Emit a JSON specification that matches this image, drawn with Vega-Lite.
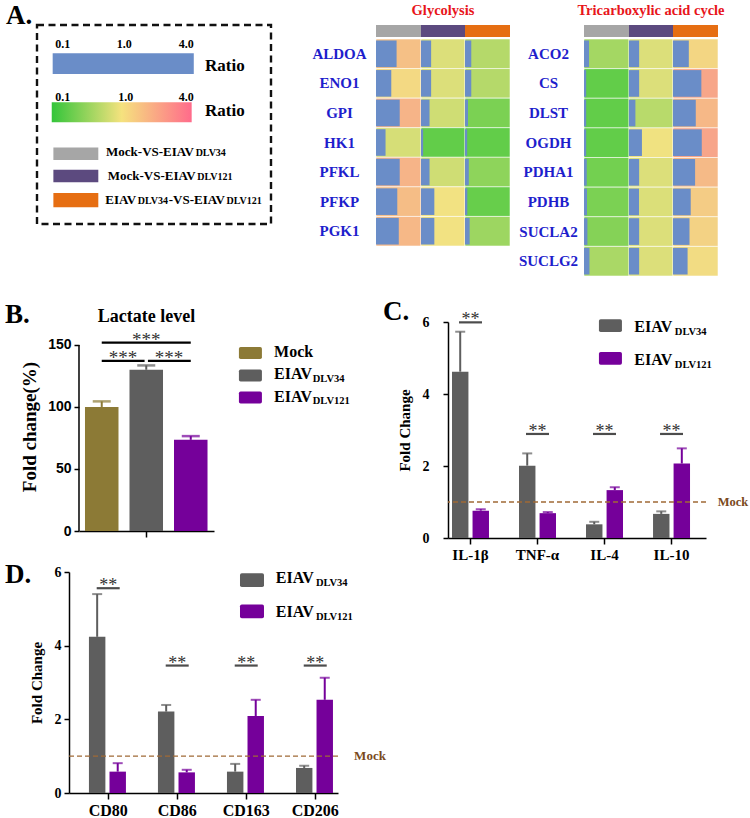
{
"$schema":"https://vega.github.io/schema/vega-lite/v6.json",
"background":"#ffffff",
"padding":{"left":4,"top":0,"right":2,"bottom":2},
"config":{
 "view":{"stroke":null},
 "font":"Liberation Serif",
 "text":{"font":"Liberation Serif","fontWeight":"bold","color":"#000000"},
 "title":{"font":"Liberation Serif","fontWeight":"bold","color":"#000000"},
 "axis":{"grid":false,"domainColor":"#000000","tickColor":"#000000","labelColor":"#000000","titleColor":"#000000","labelFont":"Liberation Serif","titleFont":"Liberation Serif","labelFontWeight":"bold","titleFontWeight":"bold","domainWidth":1.5,"tickWidth":1.5}
},
"datasets":{
 "heat":[
  {"pathway":"Glycolysis","gene":"ALDOA","comparison":"Mock-VS-EIAVDLV34","ratio":1.51},
  {"pathway":"Glycolysis","gene":"ALDOA","comparison":"Mock-VS-EIAVDLV121","ratio":0.76},
  {"pathway":"Glycolysis","gene":"ALDOA","comparison":"EIAVDLV34-VS-EIAVDLV121","ratio":0.46},
  {"pathway":"Glycolysis","gene":"ENO1","comparison":"Mock-VS-EIAVDLV34","ratio":1.12},
  {"pathway":"Glycolysis","gene":"ENO1","comparison":"Mock-VS-EIAVDLV121","ratio":0.76},
  {"pathway":"Glycolysis","gene":"ENO1","comparison":"EIAVDLV34-VS-EIAVDLV121","ratio":0.46},
  {"pathway":"Glycolysis","gene":"GPI","comparison":"Mock-VS-EIAVDLV34","ratio":1.74},
  {"pathway":"Glycolysis","gene":"GPI","comparison":"Mock-VS-EIAVDLV121","ratio":0.64},
  {"pathway":"Glycolysis","gene":"GPI","comparison":"EIAVDLV34-VS-EIAVDLV121","ratio":0.22},
  {"pathway":"Glycolysis","gene":"HK1","comparison":"Mock-VS-EIAVDLV34","ratio":0.70},
  {"pathway":"Glycolysis","gene":"HK1","comparison":"Mock-VS-EIAVDLV121","ratio":0.16},
  {"pathway":"Glycolysis","gene":"HK1","comparison":"EIAVDLV34-VS-EIAVDLV121","ratio":0.16},
  {"pathway":"Glycolysis","gene":"PFKL","comparison":"Mock-VS-EIAVDLV34","ratio":1.74},
  {"pathway":"Glycolysis","gene":"PFKL","comparison":"Mock-VS-EIAVDLV121","ratio":0.64},
  {"pathway":"Glycolysis","gene":"PFKL","comparison":"EIAVDLV34-VS-EIAVDLV121","ratio":0.28},
  {"pathway":"Glycolysis","gene":"PFKP","comparison":"Mock-VS-EIAVDLV34","ratio":1.56},
  {"pathway":"Glycolysis","gene":"PFKP","comparison":"Mock-VS-EIAVDLV121","ratio":1.0},
  {"pathway":"Glycolysis","gene":"PFKP","comparison":"EIAVDLV34-VS-EIAVDLV121","ratio":0.17},
  {"pathway":"Glycolysis","gene":"PGK1","comparison":"Mock-VS-EIAVDLV34","ratio":1.67},
  {"pathway":"Glycolysis","gene":"PGK1","comparison":"Mock-VS-EIAVDLV121","ratio":1.0},
  {"pathway":"Glycolysis","gene":"PGK1","comparison":"EIAVDLV34-VS-EIAVDLV121","ratio":0.34},
  {"pathway":"TCA","gene":"ACO2","comparison":"Mock-VS-EIAVDLV34","ratio":0.37},
  {"pathway":"TCA","gene":"ACO2","comparison":"Mock-VS-EIAVDLV121","ratio":0.76},
  {"pathway":"TCA","gene":"ACO2","comparison":"EIAVDLV34-VS-EIAVDLV121","ratio":1.16},
  {"pathway":"TCA","gene":"CS","comparison":"Mock-VS-EIAVDLV34","ratio":0.16},
  {"pathway":"TCA","gene":"CS","comparison":"Mock-VS-EIAVDLV121","ratio":0.76},
  {"pathway":"TCA","gene":"CS","comparison":"EIAVDLV34-VS-EIAVDLV121","ratio":2.08},
  {"pathway":"TCA","gene":"DLST","comparison":"Mock-VS-EIAVDLV34","ratio":0.16},
  {"pathway":"TCA","gene":"DLST","comparison":"Mock-VS-EIAVDLV121","ratio":0.48},
  {"pathway":"TCA","gene":"DLST","comparison":"EIAVDLV34-VS-EIAVDLV121","ratio":1.67},
  {"pathway":"TCA","gene":"OGDH","comparison":"Mock-VS-EIAVDLV34","ratio":0.16},
  {"pathway":"TCA","gene":"OGDH","comparison":"Mock-VS-EIAVDLV121","ratio":0.97},
  {"pathway":"TCA","gene":"OGDH","comparison":"EIAVDLV34-VS-EIAVDLV121","ratio":2.11},
  {"pathway":"TCA","gene":"PDHA1","comparison":"Mock-VS-EIAVDLV34","ratio":0.20},
  {"pathway":"TCA","gene":"PDHA1","comparison":"Mock-VS-EIAVDLV121","ratio":0.76},
  {"pathway":"TCA","gene":"PDHA1","comparison":"EIAVDLV34-VS-EIAVDLV121","ratio":1.62},
  {"pathway":"TCA","gene":"PDHB","comparison":"Mock-VS-EIAVDLV34","ratio":0.22},
  {"pathway":"TCA","gene":"PDHB","comparison":"Mock-VS-EIAVDLV121","ratio":0.75},
  {"pathway":"TCA","gene":"PDHB","comparison":"EIAVDLV34-VS-EIAVDLV121","ratio":1.30},
  {"pathway":"TCA","gene":"SUCLA2","comparison":"Mock-VS-EIAVDLV34","ratio":0.25},
  {"pathway":"TCA","gene":"SUCLA2","comparison":"Mock-VS-EIAVDLV121","ratio":0.76},
  {"pathway":"TCA","gene":"SUCLA2","comparison":"EIAVDLV34-VS-EIAVDLV121","ratio":1.21},
  {"pathway":"TCA","gene":"SUCLG2","comparison":"Mock-VS-EIAVDLV34","ratio":0.40},
  {"pathway":"TCA","gene":"SUCLG2","comparison":"Mock-VS-EIAVDLV121","ratio":0.76},
  {"pathway":"TCA","gene":"SUCLG2","comparison":"EIAVDLV34-VS-EIAVDLV121","ratio":1.07}
 ],
 "lactate":[
  {"group":"Mock","value":100,"upper":104.5},
  {"group":"EIAVDLV34","value":130,"upper":133.5},
  {"group":"EIAVDLV121","value":73.5,"upper":76.5}
 ],
 "cyto":[
  {"cytokine":"IL-1β","group":"EIAVDLV34","value":4.62,"upper":5.73},
  {"cytokine":"IL-1β","group":"EIAVDLV121","value":0.76,"upper":0.80},
  {"cytokine":"TNF-α","group":"EIAVDLV34","value":2.01,"upper":2.35},
  {"cytokine":"TNF-α","group":"EIAVDLV121","value":0.69,"upper":0.72},
  {"cytokine":"IL-4","group":"EIAVDLV34","value":0.38,"upper":0.45},
  {"cytokine":"IL-4","group":"EIAVDLV121","value":1.33,"upper":1.41},
  {"cytokine":"IL-10","group":"EIAVDLV34","value":0.67,"upper":0.74},
  {"cytokine":"IL-10","group":"EIAVDLV121","value":2.07,"upper":2.49}
 ],
 "markers":[
  {"marker":"CD80","group":"EIAVDLV34","value":4.24,"upper":5.40},
  {"marker":"CD80","group":"EIAVDLV121","value":0.58,"upper":0.81},
  {"marker":"CD86","group":"EIAVDLV34","value":2.21,"upper":2.39},
  {"marker":"CD86","group":"EIAVDLV121","value":0.56,"upper":0.63},
  {"marker":"CD163","group":"EIAVDLV34","value":0.58,"upper":0.79},
  {"marker":"CD163","group":"EIAVDLV121","value":2.09,"upper":2.53},
  {"marker":"CD206","group":"EIAVDLV34","value":0.68,"upper":0.74},
  {"marker":"CD206","group":"EIAVDLV121","value":2.53,"upper":3.13}
 ],
 "sigC":[
  {"cytokine":"IL-1β","sig":"**"},{"cytokine":"TNF-α","sig":"**"},{"cytokine":"IL-4","sig":"**"},{"cytokine":"IL-10","sig":"**"}
 ],
 "sigD":[
  {"marker":"CD80","sig":"**"},{"marker":"CD86","sig":"**"},{"marker":"CD163","sig":"**"},{"marker":"CD206","sig":"**"}
 ]
},
"resolve":{"scale":{"color":"independent"}},
"spacing":21,
"vconcat":[
 {"spacing":38,"hconcat":[
  {"width":234,"height":199,
   "view":{"stroke":"#111111","strokeWidth":2.4,"strokeDash":[7,4.5]},
   "title":{"text":"A.","anchor":"start","frame":"group","dx":-31,"fontSize":27,"baseline":"alphabetic","offset":0,"dy":25.5},
   "data":{"values":[{}]},
   "layer":[
    {"mark":{"type":"rect","color":"#6A8DC8"},"encoding":{"x":{"datum":6.7,"type":"quantitative","scale":{"domain":[0,100],"nice":false,"zero":false},"axis":null},"x2":{"datum":67.0},"y":{"datum":14.2,"type":"quantitative","scale":{"domain":[0,100],"nice":false,"zero":false,"reverse":true},"axis":null},"y2":{"datum":24.6}}},
    {"mark":{"type":"rect","fill":{"gradient":"linear","stops":[{"offset":0,"color":"#33C53A"},{"offset":0.5,"color":"#F5E27E"},{"offset":1,"color":"#FF6B8B"}]}},"encoding":{"x":{"datum":6.3},"x2":{"datum":66.1},"y":{"datum":38.8},"y2":{"datum":48.9}}},
    {"mark":{"type":"text","text":"0.1","fontSize":12,"align":"center","baseline":"middle"},"encoding":{"x":{"datum":11.0},"y":{"datum":9.5}}},
    {"mark":{"type":"text","text":"1.0","fontSize":12,"align":"center","baseline":"middle"},"encoding":{"x":{"datum":37.3},"y":{"datum":9.5}}},
    {"mark":{"type":"text","text":"4.0","fontSize":12,"align":"center","baseline":"middle"},"encoding":{"x":{"datum":63.8},"y":{"datum":9.5}}},
    {"mark":{"type":"text","text":"0.1","fontSize":12,"align":"center","baseline":"middle"},"encoding":{"x":{"datum":11.0},"y":{"datum":36.3}}},
    {"mark":{"type":"text","text":"1.0","fontSize":12,"align":"center","baseline":"middle"},"encoding":{"x":{"datum":37.9},"y":{"datum":36.3}}},
    {"mark":{"type":"text","text":"4.0","fontSize":12,"align":"center","baseline":"middle"},"encoding":{"x":{"datum":63.8},"y":{"datum":36.3}}},
    {"mark":{"type":"text","text":"Ratio","fontSize":17,"align":"left","baseline":"middle"},"encoding":{"x":{"datum":71.8},"y":{"datum":20.5}}},
    {"mark":{"type":"text","text":"Ratio","fontSize":17,"align":"left","baseline":"middle"},"encoding":{"x":{"datum":71.8},"y":{"datum":43.1}}},
    {"mark":{"type":"rect","color":"#A6A6A6"},"encoding":{"x":{"datum":7.0},"x2":{"datum":26.2},"y":{"datum":61.5},"y2":{"datum":67.8}}},
    {"mark":{"type":"rect","color":"#5C4A7F"},"encoding":{"x":{"datum":7.0},"x2":{"datum":26.2},"y":{"datum":72.7},"y2":{"datum":79.0}}},
    {"mark":{"type":"rect","color":"#E66E12"},"encoding":{"x":{"datum":7.0},"x2":{"datum":26.2},"y":{"datum":84.4},"y2":{"datum":91.6}}},
    {"mark":{"type":"text","text":"Mock-VS-EIAV","fontSize":13,"align":"left","baseline":"alphabetic"},"encoding":{"x":{"datum":29.5},"y":{"datum":66.0}}},
    {"mark":{"type":"text","text":"DLV34","fontSize":10,"align":"left","baseline":"alphabetic"},"encoding":{"x":{"datum":67.8},"y":{"datum":66.0}}},
    {"mark":{"type":"text","text":"Mock-VS-EIAV","fontSize":13,"align":"left","baseline":"alphabetic"},"encoding":{"x":{"datum":30.2},"y":{"datum":77.7}}},
    {"mark":{"type":"text","text":"DLV121","fontSize":10,"align":"left","baseline":"alphabetic"},"encoding":{"x":{"datum":68.5},"y":{"datum":77.7}}},
    {"mark":{"type":"text","text":"EIAV","fontSize":13,"align":"left","baseline":"alphabetic"},"encoding":{"x":{"datum":29.2},"y":{"datum":90.1}}},
    {"mark":{"type":"text","text":"DLV34","fontSize":10,"align":"left","baseline":"alphabetic"},"encoding":{"x":{"datum":43.1},"y":{"datum":90.1}}},
    {"mark":{"type":"text","text":"-VS-EIAV","fontSize":13,"align":"left","baseline":"alphabetic"},"encoding":{"x":{"datum":56.3},"y":{"datum":90.1}}},
    {"mark":{"type":"text","text":"DLV121","fontSize":10,"align":"left","baseline":"alphabetic"},"encoding":{"x":{"datum":81.0},"y":{"datum":90.1}}}
   ]
  },
  {"bounds":"flush","align":"each","columns":7,"spacing":{"row":2,"column":0},"concat":[
   {"width":45,"height":12,"data":{"values":[{}]},"mark":{"type":"rect","color":"#A6A6A6"},"encoding":{}},
   {"width":44,"height":12,"data":{"values":[{}]},"mark":{"type":"rect","color":"#5C4A7F"},"encoding":{},
    "title":{"text":"Glycolysis","color":"#E8151B","fontSize":14.5,"anchor":"middle","frame":"group","baseline":"alphabetic","offset":0,"dy":4}},
   {"width":45,"height":12,"data":{"values":[{}]},"mark":{"type":"rect","color":"#E66E12"},"encoding":{}},
   {"width":74,"height":1,"data":{"values":[]},"mark":"point"},
   {"width":45,"height":12,"data":{"values":[{}]},"mark":{"type":"rect","color":"#A6A6A6"},"encoding":{}},
   {"width":44,"height":12,"data":{"values":[{}]},"mark":{"type":"rect","color":"#5C4A7F"},"encoding":{},
    "title":{"text":"Tricarboxylic  acid  cycle","color":"#E8151B","fontSize":14.5,"anchor":"middle","frame":"group","baseline":"alphabetic","offset":0,"dy":4}},
   {"width":45,"height":12,"data":{"values":[{}]},"mark":{"type":"rect","color":"#E66E12"},"encoding":{}},
   {"width":45,"height":207,"data":{"name":"heat"},"transform":[{"filter":"datum.pathway === 'Glycolysis' && datum.comparison === 'Mock-VS-EIAVDLV34'"}],
    "encoding":{"y":{"field":"gene","type":"nominal","sort":["ALDOA","ENO1","GPI","HK1","PFKL","PFKP","PGK1"],"scale":{"paddingInner":0,"paddingOuter":0},"axis":{"title":null,"domain":false,"ticks":false,"labelAlign":"center","labelPadding":37,"labelFontSize":15,"labelColor":"#1E1ECC"}}},
    "layer":[
     {"mark":{"type":"rect","stroke":"#ffffff","strokeWidth":1,"strokeOpacity":0.55},"encoding":{"color":{"field":"ratio","type":"quantitative","scale":{"type":"log","domain":[0.1,1,4],"range":["#3DC83B","#F2E282","#FC7090"],"interpolate":"rgb","clamp":true},"legend":null}}},
     {"mark":{"type":"bar","color":"#6A8DC8","height":{"band":0.9}},"encoding":{"x":{"field":"ratio","type":"quantitative","scale":{"domain":[0,3.3],"clamp":true,"nice":false},"axis":null}}}
    ]},
   {"width":44,"height":207,"data":{"name":"heat"},"transform":[{"filter":"datum.pathway === 'Glycolysis' && datum.comparison === 'Mock-VS-EIAVDLV121'"}],
    "encoding":{"y":{"field":"gene","type":"nominal","sort":["ALDOA","ENO1","GPI","HK1","PFKL","PFKP","PGK1"],"scale":{"paddingInner":0,"paddingOuter":0},"axis":null}},
    "layer":[
     {"mark":{"type":"rect","stroke":"#ffffff","strokeWidth":1,"strokeOpacity":0.55},"encoding":{"color":{"field":"ratio","type":"quantitative","scale":{"type":"log","domain":[0.1,1,4],"range":["#3DC83B","#F2E282","#FC7090"],"interpolate":"rgb","clamp":true},"legend":null}}},
     {"mark":{"type":"bar","color":"#6A8DC8","height":{"band":0.9}},"encoding":{"x":{"field":"ratio","type":"quantitative","scale":{"domain":[0,3.3],"clamp":true,"nice":false},"axis":null}}}
    ]},
   {"width":45,"height":207,"data":{"name":"heat"},"transform":[{"filter":"datum.pathway === 'Glycolysis' && datum.comparison === 'EIAVDLV34-VS-EIAVDLV121'"}],
    "encoding":{"y":{"field":"gene","type":"nominal","sort":["ALDOA","ENO1","GPI","HK1","PFKL","PFKP","PGK1"],"scale":{"paddingInner":0,"paddingOuter":0},"axis":null}},
    "layer":[
     {"mark":{"type":"rect","stroke":"#ffffff","strokeWidth":1,"strokeOpacity":0.55},"encoding":{"color":{"field":"ratio","type":"quantitative","scale":{"type":"log","domain":[0.1,1,4],"range":["#3DC83B","#F2E282","#FC7090"],"interpolate":"rgb","clamp":true},"legend":null}}},
     {"mark":{"type":"bar","color":"#6A8DC8","height":{"band":0.9}},"encoding":{"x":{"field":"ratio","type":"quantitative","scale":{"domain":[0,3.3],"clamp":true,"nice":false},"axis":null}}}
    ]},
   {"width":74,"height":1,"data":{"values":[]},"mark":"point"},
   {"width":45,"height":237,"data":{"name":"heat"},"transform":[{"filter":"datum.pathway === 'TCA' && datum.comparison === 'Mock-VS-EIAVDLV34'"}],
    "encoding":{"y":{"field":"gene","type":"nominal","sort":["ACO2","CS","DLST","OGDH","PDHA1","PDHB","SUCLA2","SUCLG2"],"scale":{"paddingInner":0,"paddingOuter":0},"axis":{"title":null,"domain":false,"ticks":false,"labelAlign":"center","labelPadding":36,"labelFontSize":15,"labelColor":"#1E1ECC"}}},
    "layer":[
     {"mark":{"type":"rect","stroke":"#ffffff","strokeWidth":1,"strokeOpacity":0.55},"encoding":{"color":{"field":"ratio","type":"quantitative","scale":{"type":"log","domain":[0.1,1,4],"range":["#3DC83B","#F2E282","#FC7090"],"interpolate":"rgb","clamp":true},"legend":null}}},
     {"mark":{"type":"bar","color":"#6A8DC8","height":{"band":0.9}},"encoding":{"x":{"field":"ratio","type":"quantitative","scale":{"domain":[0,3.3],"clamp":true,"nice":false},"axis":null}}}
    ]},
   {"width":44,"height":237,"data":{"name":"heat"},"transform":[{"filter":"datum.pathway === 'TCA' && datum.comparison === 'Mock-VS-EIAVDLV121'"}],
    "encoding":{"y":{"field":"gene","type":"nominal","sort":["ACO2","CS","DLST","OGDH","PDHA1","PDHB","SUCLA2","SUCLG2"],"scale":{"paddingInner":0,"paddingOuter":0},"axis":null}},
    "layer":[
     {"mark":{"type":"rect","stroke":"#ffffff","strokeWidth":1,"strokeOpacity":0.55},"encoding":{"color":{"field":"ratio","type":"quantitative","scale":{"type":"log","domain":[0.1,1,4],"range":["#3DC83B","#F2E282","#FC7090"],"interpolate":"rgb","clamp":true},"legend":null}}},
     {"mark":{"type":"bar","color":"#6A8DC8","height":{"band":0.9}},"encoding":{"x":{"field":"ratio","type":"quantitative","scale":{"domain":[0,3.3],"clamp":true,"nice":false},"axis":null}}}
    ]},
   {"width":45,"height":237,"data":{"name":"heat"},"transform":[{"filter":"datum.pathway === 'TCA' && datum.comparison === 'EIAVDLV34-VS-EIAVDLV121'"}],
    "encoding":{"y":{"field":"gene","type":"nominal","sort":["ACO2","CS","DLST","OGDH","PDHA1","PDHB","SUCLA2","SUCLG2"],"scale":{"paddingInner":0,"paddingOuter":0},"axis":null}},
    "layer":[
     {"mark":{"type":"rect","stroke":"#ffffff","strokeWidth":1,"strokeOpacity":0.55},"encoding":{"color":{"field":"ratio","type":"quantitative","scale":{"type":"log","domain":[0.1,1,4],"range":["#3DC83B","#F2E282","#FC7090"],"interpolate":"rgb","clamp":true},"legend":null}}},
     {"mark":{"type":"bar","color":"#6A8DC8","height":{"band":0.9}},"encoding":{"x":{"field":"ratio","type":"quantitative","scale":{"domain":[0,3.3],"clamp":true,"nice":false},"axis":null}}}
    ]}
  ]}
 ]},
 {"spacing":-2,"vconcat":[
  {"bounds":"flush","spacing":0,"hconcat":[
   {"width":42,"height":1,"data":{"values":[]},"mark":"point",
    "title":{"text":"B.","anchor":"start","frame":"group","dx":-32,"fontSize":27,"baseline":"alphabetic","offset":0,"dy":28}},
   {"width":135,"height":209,
    "title":{"text":"Lactate level","fontSize":18,"anchor":"middle","frame":"group","baseline":"alphabetic","offset":0,"dy":18},
    "layer":[
     {"data":{"name":"lactate"},"mark":{"type":"rule","strokeWidth":2},"encoding":{
       "x":{"field":"group","type":"nominal","scale":{"domain":["Mock","EIAVDLV34","EIAVDLV121"],"paddingInner":0.247,"paddingOuter":0.14,"align":0.48},"axis":{"title":null,"labels":false,"values":["EIAVDLV34"],"tickSize":6}},
       "y":{"field":"value","type":"quantitative","scale":{"domain":[0,168.5],"nice":false},"axis":{"title":"Fold change(%)","titleFontSize":19,"titlePadding":8,"domain":false,"values":[0,50,100,150],"labelFont":"Liberation Sans","labelFontSize":14,"labelPadding":3,"tickSize":5}},
       "y2":{"field":"upper"},
       "color":{"field":"group","type":"nominal","scale":{"domain":["Mock","EIAVDLV34","EIAVDLV121"],"range":["#8C7A36","#5E5E5E","#75009A"]},"legend":null}}},
     {"data":{"values":[{}]},"mark":{"type":"rule","strokeWidth":1.5,"color":"#000000"},"encoding":{"x":{"datum":"Mock","bandPosition":-0.1787},"y":{"datum":0},"y2":{"datum":150}}},
     {"data":{"name":"lactate"},"mark":{"type":"tick","thickness":2.5,"size":18},"encoding":{"x":{"field":"group","type":"nominal"},"y":{"field":"upper","type":"quantitative"},"color":{"field":"group","type":"nominal","legend":null}}},
     {"data":{"name":"lactate"},"mark":{"type":"bar"},"encoding":{"x":{"field":"group","type":"nominal"},"y":{"field":"value","type":"quantitative"},"color":{"field":"group","type":"nominal","legend":null}}},
     {"data":{"values":[{}]},"mark":{"type":"rule","strokeWidth":2.2,"color":"#000000"},"encoding":{"x":{"datum":"Mock","bandPosition":0.5},"x2":{"datum":"EIAVDLV121","bandPosition":0.5},"y":{"datum":151.9}}},
     {"data":{"values":[{}]},"mark":{"type":"rule","strokeWidth":2.2,"color":"#000000"},"encoding":{"x":{"datum":"Mock","bandPosition":0.5},"x2":{"datum":"EIAVDLV34","bandPosition":0.45},"y":{"datum":137.1}}},
     {"data":{"values":[{}]},"mark":{"type":"rule","strokeWidth":2.2,"color":"#000000"},"encoding":{"x":{"datum":"EIAVDLV34","bandPosition":0.55},"x2":{"datum":"EIAVDLV121","bandPosition":0.5},"y":{"datum":137.1}}},
     {"data":{"values":[{}]},"mark":{"type":"text","text":"***","fontSize":19,"fontWeight":"normal","color":"#333333","align":"center","baseline":"alphabetic","dy":3},"encoding":{"x":{"datum":"EIAVDLV34","bandPosition":0.5},"y":{"datum":151.9}}},
     {"data":{"values":[{}]},"mark":{"type":"text","text":"***","fontSize":19,"fontWeight":"normal","color":"#333333","align":"center","baseline":"alphabetic","dy":3},"encoding":{"x":{"datum":"Mock","bandPosition":1.134},"y":{"datum":137.1}}},
     {"data":{"values":[{}]},"mark":{"type":"text","text":"***","fontSize":19,"fontWeight":"normal","color":"#333333","align":"center","baseline":"alphabetic","dy":3},"encoding":{"x":{"datum":"EIAVDLV34","bandPosition":1.18},"y":{"datum":137.1}}},
     {"data":{"values":[{}]},"mark":{"type":"point","shape":"M-0.85,-0.52L0.85,-0.52Q1,-0.52,1,-0.37L1,0.37Q1,0.52,0.85,0.52L-0.85,0.52Q-1,0.52,-1,0.37L-1,-0.37Q-1,-0.52,-0.85,-0.52Z","size":529,"filled":true,"opacity":1},"encoding":{"x":{"datum":"EIAVDLV121","bandPosition":2.28},"y":{"datum":143.5},"color":{"datum":"Mock","type":"nominal","legend":null}}},
     {"data":{"values":[{}]},"mark":{"type":"point","shape":"M-0.85,-0.52L0.85,-0.52Q1,-0.52,1,-0.37L1,0.37Q1,0.52,0.85,0.52L-0.85,0.52Q-1,0.52,-1,0.37L-1,-0.37Q-1,-0.52,-0.85,-0.52Z","size":529,"filled":true,"opacity":1},"encoding":{"x":{"datum":"EIAVDLV121","bandPosition":2.28},"y":{"datum":125.4},"color":{"datum":"EIAVDLV34","type":"nominal","legend":null}}},
     {"data":{"values":[{}]},"mark":{"type":"point","shape":"M-0.85,-0.52L0.85,-0.52Q1,-0.52,1,-0.37L1,0.37Q1,0.52,0.85,0.52L-0.85,0.52Q-1,0.52,-1,0.37L-1,-0.37Q-1,-0.52,-0.85,-0.52Z","size":529,"filled":true,"opacity":1},"encoding":{"x":{"datum":"EIAVDLV121","bandPosition":2.28},"y":{"datum":107.7},"color":{"datum":"EIAVDLV121","type":"nominal","legend":null}}},
     {"data":{"values":[{}]},"mark":{"type":"text","text":"Mock","fontSize":16,"align":"left","baseline":"alphabetic"},"encoding":{"x":{"datum":"EIAVDLV121","bandPosition":2.985},"y":{"datum":140.6}}},
     {"data":{"values":[{}]},"mark":{"type":"text","text":"EIAV","fontSize":16,"align":"left","baseline":"alphabetic"},"encoding":{"x":{"datum":"EIAVDLV121","bandPosition":2.985},"y":{"datum":122.3}}},
     {"data":{"values":[{}]},"mark":{"type":"text","text":"DLV34","fontSize":10.5,"align":"left","baseline":"alphabetic"},"encoding":{"x":{"datum":"EIAVDLV121","bandPosition":4.14},"y":{"datum":119.9}}},
     {"data":{"values":[{}]},"mark":{"type":"text","text":"EIAV","fontSize":16,"align":"left","baseline":"alphabetic"},"encoding":{"x":{"datum":"EIAVDLV121","bandPosition":2.985},"y":{"datum":104.3}}},
     {"data":{"values":[{}]},"mark":{"type":"text","text":"DLV121","fontSize":10.5,"align":"left","baseline":"alphabetic"},"encoding":{"x":{"datum":"EIAVDLV121","bandPosition":4.14},"y":{"datum":102.2}}}
    ]},
   {"width":234,"height":1,"data":{"values":[]},"mark":"point"},
   {"width":258,"height":216,
    "title":{"text":"C.","anchor":"start","frame":"group","dx":-65,"fontSize":27,"baseline":"alphabetic","offset":0,"dy":36},
    "layer":[
     {"data":{"name":"cyto"},"mark":{"type":"rule","strokeWidth":2},"encoding":{
       "x":{"field":"cytokine","type":"nominal","scale":{"domain":["IL-1β","TNF-α","IL-4","IL-10"],"paddingInner":0.448,"paddingOuter":0.149,"align":0.2},"axis":{"title":null,"labelAngle":0,"labelFontSize":15,"tickSize":6,"labelPadding":3}},
       "xOffset":{"field":"group","type":"nominal","scale":{"domain":["EIAVDLV34","EIAVDLV121"],"paddingInner":0.2}},
       "y":{"field":"value","type":"quantitative","scale":{"domain":[0,6],"nice":false},"axis":{"title":"Fold Change","titleFontSize":15,"titlePadding":10,"values":[0,2,4,6],"labelFontSize":14,"labelPadding":14,"tickSize":5}},
       "y2":{"field":"upper"},
       "color":{"field":"group","type":"nominal","scale":{"domain":["Mock","EIAVDLV34","EIAVDLV121"],"range":["#8C7A36","#5E5E5E","#75009A"]},"legend":null}}},
     {"data":{"name":"cyto"},"mark":{"type":"tick","thickness":2,"size":10},"encoding":{"x":{"field":"cytokine","type":"nominal"},"xOffset":{"field":"group","type":"nominal"},"y":{"field":"upper","type":"quantitative"},"color":{"field":"group","type":"nominal","legend":null}}},
     {"data":{"name":"cyto"},"mark":{"type":"bar"},"encoding":{"x":{"field":"cytokine","type":"nominal"},"xOffset":{"field":"group","type":"nominal"},"y":{"field":"value","type":"quantitative"},"color":{"field":"group","type":"nominal","legend":null}}},
     {"data":{"values":[{}]},"mark":{"type":"rule","color":"#A06A36","strokeDash":[5,3],"strokeWidth":1.3},"encoding":{"y":{"datum":1}}},
     {"data":{"values":[{}]},"mark":{"type":"text","text":"Mock","fontSize":12.5,"color":"#7A4A1C","align":"left","baseline":"middle"},"encoding":{"x":{"datum":"IL-10","bandPosition":1.75},"y":{"datum":1}}},
     {"data":{"name":"sigC"},"transform":[{"filter":"datum.cytokine === 'IL-1β'"}],"mark":{"type":"tick","thickness":2.2,"size":23,"color":"#000000"},"encoding":{"x":{"field":"cytokine","type":"nominal"},"y":{"datum":5.99}}},
     {"data":{"name":"sigC"},"transform":[{"filter":"datum.cytokine !== 'IL-1β'"}],"mark":{"type":"tick","thickness":2.2,"size":23,"color":"#000000"},"encoding":{"x":{"field":"cytokine","type":"nominal"},"y":{"datum":2.89}}},
     {"data":{"name":"sigC"},"transform":[{"filter":"datum.cytokine === 'IL-1β'"}],"mark":{"type":"text","fontSize":18,"fontWeight":"normal","color":"#333333","align":"center","baseline":"alphabetic","dy":3},"encoding":{"x":{"field":"cytokine","type":"nominal"},"y":{"datum":5.99},"text":{"field":"sig"}}},
     {"data":{"name":"sigC"},"transform":[{"filter":"datum.cytokine !== 'IL-1β'"}],"mark":{"type":"text","fontSize":18,"fontWeight":"normal","color":"#333333","align":"center","baseline":"alphabetic","dy":3},"encoding":{"x":{"field":"cytokine","type":"nominal"},"y":{"datum":2.89},"text":{"field":"sig"}}},
     {"data":{"values":[{}]},"mark":{"type":"point","shape":"M-0.85,-0.55L0.85,-0.55Q1,-0.55,1,-0.4L1,0.4Q1,0.55,0.85,0.55L-0.85,0.55Q-1,0.55,-1,0.4L-1,-0.4Q-1,-0.55,-0.85,-0.55Z","size":529,"filled":true,"opacity":1},"encoding":{"x":{"datum":"IL-4","bandPosition":0.66},"y":{"datum":5.90},"color":{"datum":"EIAVDLV34","type":"nominal","legend":null}}},
     {"data":{"values":[{}]},"mark":{"type":"point","shape":"M-0.85,-0.55L0.85,-0.55Q1,-0.55,1,-0.4L1,0.4Q1,0.55,0.85,0.55L-0.85,0.55Q-1,0.55,-1,0.4L-1,-0.4Q-1,-0.55,-0.85,-0.55Z","size":529,"filled":true,"opacity":1},"encoding":{"x":{"datum":"IL-4","bandPosition":0.66},"y":{"datum":4.99},"color":{"datum":"EIAVDLV121","type":"nominal","legend":null}}},
     {"data":{"values":[{}]},"mark":{"type":"text","text":"EIAV","fontSize":16,"align":"left","baseline":"alphabetic"},"encoding":{"x":{"datum":"IL-4","bandPosition":1.305},"y":{"datum":5.71}}},
     {"data":{"values":[{}]},"mark":{"type":"text","text":"DLV34","fontSize":10.5,"align":"left","baseline":"alphabetic"},"encoding":{"x":{"datum":"IL-4","bandPosition":2.4},"y":{"datum":5.64}}},
     {"data":{"values":[{}]},"mark":{"type":"text","text":"EIAV","fontSize":16,"align":"left","baseline":"alphabetic"},"encoding":{"x":{"datum":"IL-4","bandPosition":1.305},"y":{"datum":4.81}}},
     {"data":{"values":[{}]},"mark":{"type":"text","text":"DLV121","fontSize":10.5,"align":"left","baseline":"alphabetic"},"encoding":{"x":{"datum":"IL-4","bandPosition":2.4},"y":{"datum":4.71}}}
    ]}
  ]},
  {"bounds":"flush","spacing":0,"hconcat":[
   {"width":32,"height":1,"data":{"values":[]},"mark":"point"},
   {"width":269,"height":221,
    "title":{"text":"D.","anchor":"start","frame":"group","dx":-64,"fontSize":27,"baseline":"alphabetic","offset":0,"dy":44.5},
    "layer":[
     {"data":{"name":"markers"},"mark":{"type":"rule","strokeWidth":2},"encoding":{
       "x":{"field":"marker","type":"nominal","scale":{"domain":["CD80","CD86","CD163","CD206"],"paddingInner":0.442,"paddingOuter":0.17,"align":0.85},"axis":{"title":null,"labelAngle":0,"labelFontSize":16,"tickSize":6,"labelPadding":3}},
       "xOffset":{"field":"group","type":"nominal","scale":{"domain":["EIAVDLV34","EIAVDLV121"],"paddingInner":0.2}},
       "y":{"field":"value","type":"quantitative","scale":{"domain":[0,6],"nice":false},"axis":{"title":"Fold Change","titleFontSize":15,"titlePadding":10,"values":[0,2,4,6],"labelFontSize":14,"labelPadding":3,"tickSize":5}},
       "y2":{"field":"upper"},
       "color":{"field":"group","type":"nominal","scale":{"domain":["Mock","EIAVDLV34","EIAVDLV121"],"range":["#8C7A36","#5E5E5E","#75009A"]},"legend":null}}},
     {"data":{"name":"markers"},"mark":{"type":"tick","thickness":2,"size":10},"encoding":{"x":{"field":"marker","type":"nominal"},"xOffset":{"field":"group","type":"nominal"},"y":{"field":"upper","type":"quantitative"},"color":{"field":"group","type":"nominal","legend":null}}},
     {"data":{"name":"markers"},"mark":{"type":"bar"},"encoding":{"x":{"field":"marker","type":"nominal"},"xOffset":{"field":"group","type":"nominal"},"y":{"field":"value","type":"quantitative"},"color":{"field":"group","type":"nominal","legend":null}}},
     {"data":{"values":[{}]},"mark":{"type":"rule","color":"#A06A36","strokeDash":[5,3],"strokeWidth":1.3},"encoding":{"y":{"datum":1}}},
     {"data":{"values":[{}]},"mark":{"type":"text","text":"Mock","fontSize":13,"color":"#7A4A1C","align":"left","baseline":"middle"},"encoding":{"x":{"datum":"CD206","bandPosition":1.51},"y":{"datum":1}}},
     {"data":{"name":"sigD"},"transform":[{"filter":"datum.marker === 'CD80'"}],"mark":{"type":"tick","thickness":2.2,"size":23,"color":"#000000"},"encoding":{"x":{"field":"marker","type":"nominal"},"y":{"datum":5.56}}},
     {"data":{"name":"sigD"},"transform":[{"filter":"datum.marker !== 'CD80'"}],"mark":{"type":"tick","thickness":2.2,"size":23,"color":"#000000"},"encoding":{"x":{"field":"marker","type":"nominal"},"y":{"datum":3.46}}},
     {"data":{"name":"sigD"},"transform":[{"filter":"datum.marker === 'CD80'"}],"mark":{"type":"text","fontSize":18,"fontWeight":"normal","color":"#333333","align":"center","baseline":"alphabetic","dy":3},"encoding":{"x":{"field":"marker","type":"nominal"},"y":{"datum":5.56},"text":{"field":"sig"}}},
     {"data":{"name":"sigD"},"transform":[{"filter":"datum.marker !== 'CD80'"}],"mark":{"type":"text","fontSize":18,"fontWeight":"normal","color":"#333333","align":"center","baseline":"alphabetic","dy":3},"encoding":{"x":{"field":"marker","type":"nominal"},"y":{"datum":3.46},"text":{"field":"sig"}}},
     {"data":{"values":[{}]},"mark":{"type":"point","shape":"M-0.85,-0.58L0.85,-0.58Q1,-0.58,1,-0.43L1,0.43Q1,0.58,0.85,0.58L-0.85,0.58Q-1,0.58,-1,0.43L-1,-0.43Q-1,-0.58,-0.85,-0.58Z","size":576,"filled":true,"opacity":1},"encoding":{"x":{"datum":"CD163","bandPosition":0.65},"y":{"datum":5.78},"color":{"datum":"EIAVDLV34","type":"nominal","legend":null}}},
     {"data":{"values":[{}]},"mark":{"type":"point","shape":"M-0.85,-0.58L0.85,-0.58Q1,-0.58,1,-0.43L1,0.43Q1,0.58,0.85,0.58L-0.85,0.58Q-1,0.58,-1,0.43L-1,-0.43Q-1,-0.58,-0.85,-0.58Z","size":576,"filled":true,"opacity":1},"encoding":{"x":{"datum":"CD163","bandPosition":0.65},"y":{"datum":4.93},"color":{"datum":"EIAVDLV121","type":"nominal","legend":null}}},
     {"data":{"values":[{}]},"mark":{"type":"text","text":"EIAV","fontSize":16,"align":"left","baseline":"alphabetic"},"encoding":{"x":{"datum":"CD163","bandPosition":1.27},"y":{"datum":5.71}}},
     {"data":{"values":[{}]},"mark":{"type":"text","text":"DLV34","fontSize":10.5,"align":"left","baseline":"alphabetic"},"encoding":{"x":{"datum":"CD163","bandPosition":2.31},"y":{"datum":5.62}}},
     {"data":{"values":[{}]},"mark":{"type":"text","text":"EIAV","fontSize":16,"align":"left","baseline":"alphabetic"},"encoding":{"x":{"datum":"CD163","bandPosition":1.27},"y":{"datum":4.77}}},
     {"data":{"values":[{}]},"mark":{"type":"text","text":"DLV121","fontSize":10.5,"align":"left","baseline":"alphabetic"},"encoding":{"x":{"datum":"CD163","bandPosition":2.31},"y":{"datum":4.70}}}
    ]}
  ]}
 ]}
]
}
